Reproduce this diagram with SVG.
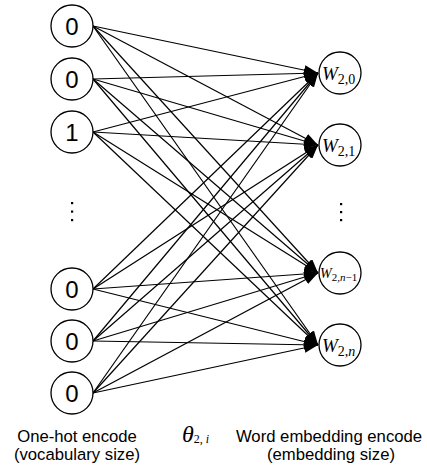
<svg xmlns="http://www.w3.org/2000/svg" width="427" height="468" viewBox="0 0 427 468">
<style>
.node{fill:#fff;stroke:#000;stroke-width:1.3}
.in{font-family:"Liberation Sans",Arial,sans-serif;font-size:24px;text-anchor:middle;fill:#000}
.w{font-family:"Liberation Serif","Times New Roman",serif;font-style:italic;fill:#000}
.up{font-style:normal}
.lbl{font-family:"Liberation Sans",Arial,sans-serif;font-size:16.7px;text-anchor:middle;fill:#000}
.conn line{stroke:#000;stroke-width:1.2;marker-end:url(#ah)}
</style>
<defs>
<marker id="ah" markerUnits="userSpaceOnUse" markerWidth="14" markerHeight="10" viewBox="0 0 14 10" refX="14" refY="5" orient="auto">
<path d="M0,0 L14,5 L0,10 z" fill="#000"/>
</marker>
</defs>
<rect width="427" height="468" fill="#fff"/>
<g id="connectors" class="conn">
<line x1="93" y1="26" x2="318" y2="73"/><line x1="93" y1="26" x2="318" y2="145"/><line x1="93" y1="26" x2="318" y2="273"/><line x1="93" y1="26" x2="318" y2="345"/>
<line x1="93" y1="79" x2="318" y2="73"/><line x1="93" y1="79" x2="318" y2="145"/><line x1="93" y1="79" x2="318" y2="273"/><line x1="93" y1="79" x2="318" y2="345"/>
<line x1="93" y1="132" x2="318" y2="73"/><line x1="93" y1="132" x2="318" y2="145"/><line x1="93" y1="132" x2="318" y2="273"/><line x1="93" y1="132" x2="318" y2="345"/>
<line x1="93" y1="289" x2="318" y2="73"/><line x1="93" y1="289" x2="318" y2="145"/><line x1="93" y1="289" x2="318" y2="273"/><line x1="93" y1="289" x2="318" y2="345"/>
<line x1="93" y1="341" x2="318" y2="73"/><line x1="93" y1="341" x2="318" y2="145"/><line x1="93" y1="341" x2="318" y2="273"/><line x1="93" y1="341" x2="318" y2="345"/>
<line x1="93" y1="393" x2="318" y2="73"/><line x1="93" y1="393" x2="318" y2="145"/><line x1="93" y1="393" x2="318" y2="273"/><line x1="93" y1="393" x2="318" y2="345"/>
</g>
<g id="in0"><circle class="node" cx="72" cy="26" r="21"/><text class="in" x="72" y="34.5">0</text></g>
<g id="in1"><circle class="node" cx="72" cy="79" r="21"/><text class="in" x="72" y="87.5">0</text></g>
<g id="in2"><circle class="node" cx="72" cy="132" r="21"/><text class="in" x="72" y="140.5">1</text></g>
<g id="in-dots" fill="#000"><rect x="71" y="202" width="2.2" height="2.2"/><rect x="71" y="210.5" width="2.2" height="2.2"/><rect x="71" y="219" width="2.2" height="2.2"/></g>
<g id="in3"><circle class="node" cx="72" cy="289" r="21"/><text class="in" x="72" y="297.5">0</text></g>
<g id="in4"><circle class="node" cx="72" cy="341" r="21"/><text class="in" x="72" y="349.5">0</text></g>
<g id="in5"><circle class="node" cx="72" cy="393" r="21"/><text class="in" x="72" y="401.5">0</text></g>
<g id="out0"><circle class="node" cx="340" cy="73" r="21"/><text class="w" x="322" y="80" font-size="19">W<tspan class="up" font-size="14" dy="4">2,0</tspan></text></g>
<g id="out1"><circle class="node" cx="340" cy="145" r="21"/><text class="w" x="322" y="152" font-size="19">W<tspan class="up" font-size="14" dy="4">2,1</tspan></text></g>
<g id="out-dots" fill="#000"><rect x="340" y="203" width="2.2" height="2.2"/><rect x="340" y="211" width="2.2" height="2.2"/><rect x="340" y="219" width="2.2" height="2.2"/></g>
<g id="out2"><circle class="node" cx="340" cy="273" r="21"/><text class="w" x="320" y="278" font-size="14">W<tspan class="up" font-size="11" dy="3">2,</tspan><tspan font-size="11">n</tspan><tspan class="up" font-size="11">−1</tspan></text></g>
<g id="out3"><circle class="node" cx="340" cy="345" r="21"/><text class="w" x="322" y="352" font-size="19">W<tspan class="up" font-size="14" dy="4">2,</tspan><tspan font-size="14">n</tspan></text></g>
<g id="labels">
<text class="lbl" x="77" y="442">One-hot encode</text>
<text class="lbl" x="77" y="460">(vocabulary size)</text>
<text class="w" x="182" y="442" font-size="24">θ<tspan class="up" font-size="12" dy="1">2, </tspan><tspan font-size="12">i</tspan></text>
<text class="lbl" x="329" y="442">Word embedding encode</text>
<text class="lbl" x="331" y="460">(embedding size)</text>
</g>
</svg>
